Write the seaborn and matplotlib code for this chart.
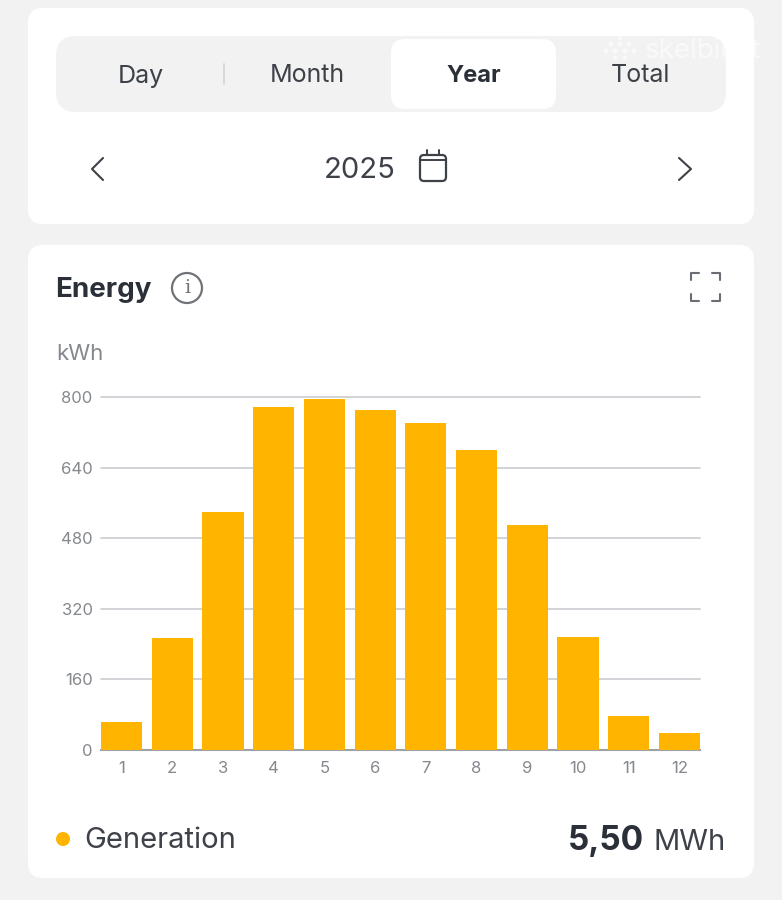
import matplotlib
matplotlib.use('Agg')
import matplotlib.pyplot as plt
from matplotlib.patches import FancyBboxPatch, Circle
import pandas as pd
import seaborn as sns

# values
months = ['1', '2', '3', '4', '5', '6', '7', '8', '9', '10', '11', '12']
generation = [63, 254, 539, 777, 795, 770, 741, 680, 510, 256, 77, 38]
y_ticks = [0, 160, 320, 480, 640, 800]
tabs = ['Day', 'Month', 'Year', 'Total']

W, H = 782, 900
BAR = '#FFB400'
DARK = '#2b3038'
TEXT = '#3d4148'
GREY = '#85888c'
BAR_WIDTH = 0.81

sns.set_theme(style='white')
plt.rcParams['font.family'] = ['Inter', 'DejaVu Sans']

fig = plt.figure(figsize=(W / 100, H / 100), dpi=100, facecolor='#f2f2f2')

# page furniture, in pixel coords
bg = fig.add_axes([0, 0, 1, 1])
bg.set_xlim(0, W)
bg.set_ylim(H, 0)
bg.axis('off')


def card(x0, y0, x1, y1, r, color):
    bg.add_patch(FancyBboxPatch((x0 + r, y0 + r), x1 - x0 - 2 * r, y1 - y0 - 2 * r,
                                boxstyle=f'round,pad={r},rounding_size={r}',
                                fc=color, ec='none'))


card(28, 8, 754, 224, 15, 'white')
card(28, 245, 754, 878, 15, 'white')
card(56, 36, 726, 112, 20, '#f2f2f2')
card(391, 39, 556, 109, 14, 'white')
bg.plot([224, 224], [64, 84], color='#d4d6d8', lw=1.3)

tab_x = [141, 307, 474, 640]
for name, x in zip(tabs, tab_x):
    bold = name == 'Year'
    bg.text(x, 76, name, ha='center', va='center', fontsize=17 if bold else 18,
            color=DARK if bold else TEXT, fontweight='bold' if bold else 'normal')

# year row
bg.text(360, 171, '2025', ha='center', va='center', fontsize=21, color=TEXT)
bg.plot([103, 92, 103], [158, 169, 180], color=TEXT, lw=1.5)
bg.plot([679, 691, 679], [158, 169, 180], color=TEXT, lw=1.5)
bg.add_patch(FancyBboxPatch((423, 158), 20, 20, boxstyle='round,pad=3,rounding_size=4',
                            fc='none', ec=TEXT, lw=1.6))
bg.plot([420, 446], [160, 160], color=TEXT, lw=1.4)
bg.plot([427, 427], [150, 155], color=TEXT, lw=1.4)
bg.plot([439, 439], [150, 155], color=TEXT, lw=1.4)

# watermark
bg.text(645, 51, 'skelbiu.lt', ha='left', va='center', fontsize=20, color='white', alpha=0.6)
for dx, dy in [(-9, -4), (0, -4), (9, -4), (-14, 3), (-5, 3), (5, 3), (14, 3), (-5, 10), (5, 10), (0, -10)]:
    bg.add_patch(Circle((620 + dx, 48 + dy), 2.4, fc='white', ec='none', alpha=0.6))

# card header
bg.text(55, 290, 'Energy', ha='left', va='center', fontsize=20, fontweight='bold', color=DARK)
bg.add_patch(Circle((187, 288), 15, fc='none', ec='#6f7378', lw=1.6))
bg.text(187, 288, 'i', ha='center', va='center', fontsize=14, color='#6f7378', family='DejaVu Serif')
for cx, sx in [(691, 1), (720, -1)]:
    for cy, sy in [(273, 1), (301, -1)]:
        bg.plot([cx + sx * 8, cx, cx], [cy, cy, cy + sy * 7], color='#6a6e74', lw=1.5,
                solid_joinstyle='round')
bg.text(56, 354, 'kWh', ha='left', va='center', fontsize=16, color=GREY)

# legend row
bg.add_patch(Circle((63, 839), 7, fc=BAR, ec='none'))
bg.text(84, 841, 'Generation', ha='left', va='center', fontsize=21, color=TEXT)
bg.text(644, 841, '5,50', ha='right', va='center', fontsize=24, fontweight='bold', color=DARK)
bg.text(726, 842, 'MWh', ha='right', va='center', fontsize=21, color=TEXT)

# the chart itself: bars span 101..700 px, 0 at y=750, 800 at y=397
ax = fig.add_axes([101 / W, 1 - 750 / H, (700 - 101) / W, (750 - 397) / H])
ax.patch.set_alpha(0)
df = pd.DataFrame({'month': months, 'kwh': generation})
sns.barplot(data=df, x='month', y='kwh', color=BAR, saturation=1, width=BAR_WIDTH,
            linewidth=0, edgecolor='none', ax=ax, zorder=3)
ax.set_xlim(-BAR_WIDTH / 2, len(months) - 1 + BAR_WIDTH / 2)
ax.set_ylim(0, 800)
ax.set_yticks(y_ticks)
ax.set(xlabel='', ylabel='')
ax.grid(axis='y', color='#c9ccd0', lw=1.2, zorder=0)
ax.grid(axis='x', visible=False)
for s in ['top', 'left', 'right']:
    ax.spines[s].set_visible(False)
ax.spines['bottom'].set_color('#9ea2a8')
ax.spines['bottom'].set_linewidth(1.5)
ax.tick_params(axis='x', length=0, pad=8, labelsize=12, labelcolor=GREY)
ax.tick_params(axis='y', length=0, pad=6, labelsize=12, labelcolor=GREY)
for line in ax.get_ygridlines():
    line.set_clip_on(False)

fig.savefig('out.png', dpi=100, facecolor=fig.get_facecolor())
